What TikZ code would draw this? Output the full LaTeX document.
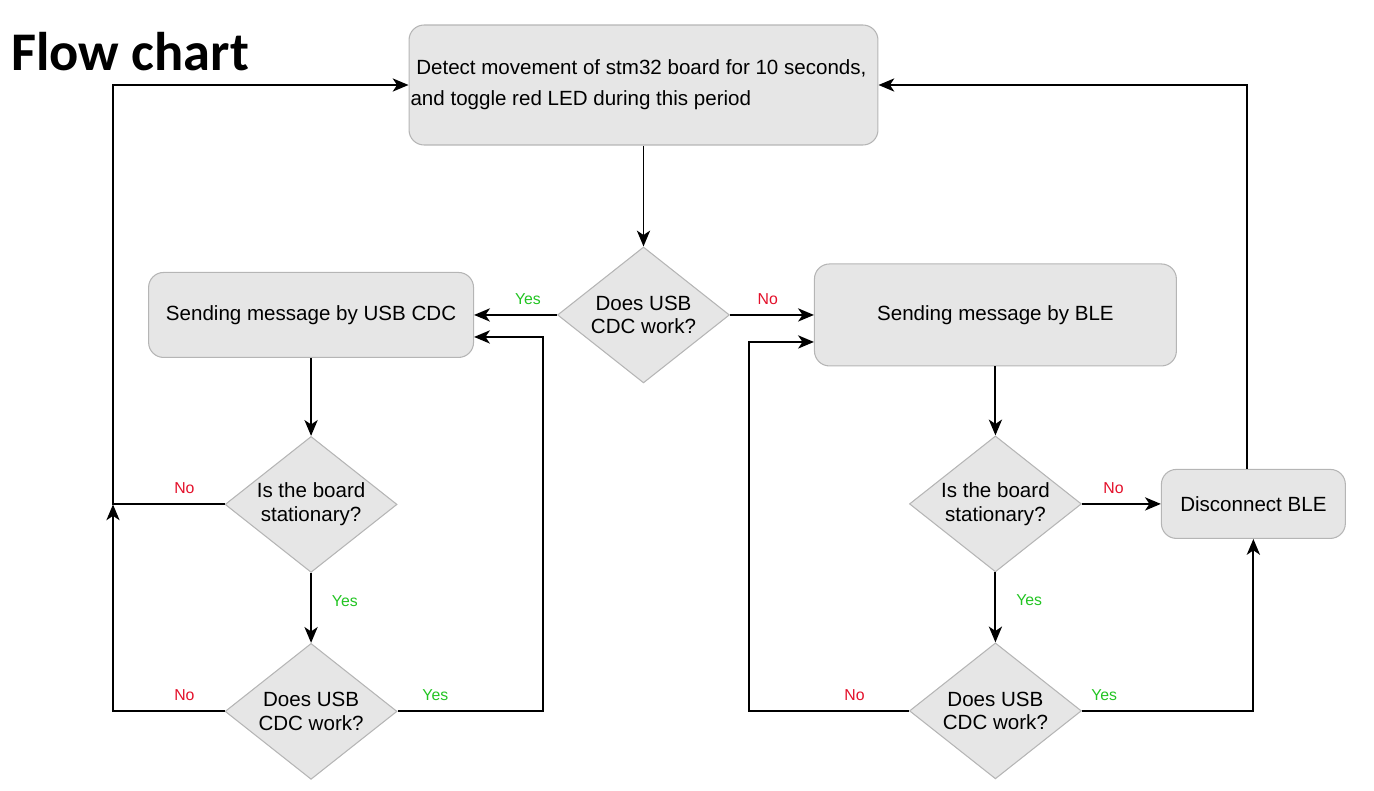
\documentclass[tikz,border=0pt]{standalone}
\usepackage{fontspec}
\setmainfont{Liberation Sans}
\newfontfamily\titlefont{Carlito}
\usetikzlibrary{positioning,shapes.geometric,arrows.meta,calc}
\definecolor{boxfill}{HTML}{E6E6E6}
\definecolor{boxline}{HTML}{B5B5B5}
\definecolor{yesgreen}{HTML}{22C422}
\definecolor{nored}{HTML}{E3102A}

\begin{document}
\begin{tikzpicture}[x=0.02cm,y=-0.02cm,on grid,
    procbox/.style={draw=boxline,fill=boxfill,rounded corners=0.3cm,line width=0.6pt,
        font=\fontsize{11.7}{13.6}\selectfont},
    decision/.style={diamond,draw=boxline,fill=boxfill,line width=0.6pt,inner sep=0pt,
        shape aspect=1.26,minimum width=3.44cm,minimum height=2.72cm,align=center,
        font=\fontsize{11.7}{13.6}\selectfont},
    flow/.style={line width=1.1pt,-{Stealth[length=9pt,width=7.5pt,inset=2.5pt]}},
    yes/.style={text=yesgreen,font=\fontsize{9}{10}\selectfont},
    no/.style={text=nored,font=\fontsize{9}{10}\selectfont}]
    \useasboundingbox (0,0) rectangle (1374,791);
    \node[anchor=base west,inner sep=0pt,font=\titlefont\bfseries\fontsize{31}{34}\selectfont] (title) at (11,71) {Flow chart};
    \node[procbox,minimum width=9.38cm,minimum height=2.4cm,inner xsep=0pt,align=left] (detect) at (643.5,85)
        {\ Detect movement of stm32 board for 10 seconds,\hspace*{0.2cm}\\[4pt]and toggle red LED during this period};
    \node[decision,below=4.6cm of detect] (cdcwork) {Does USB\\CDC work?};
    \node[procbox,left=6.65cm of cdcwork,minimum width=6.5cm,minimum height=1.7cm] (sendusb) {Sending message by USB CDC};
    \node[procbox,right=7.04cm of cdcwork,minimum width=7.24cm,minimum height=2.04cm] (sendble) {Sending message by BLE};
    \node[decision,below=3.79cm of sendusb] (stilla) {Is the board\\stationary?};
    \node[decision,below=4.14cm of stilla] (cdca) {Does USB\\CDC work?};
    \node[decision,below=3.78cm of sendble] (stillb) {Is the board\\stationary?};
    \node[decision,below=4.14cm of stillb] (cdcb) {Does USB\\CDC work?};
    \node[procbox,right=5.16cm of stillb,minimum width=3.68cm,minimum height=1.38cm] (disconnect) {Disconnect BLE};
    \coordinate (leftrail) at (113,0);
    \coordinate (usbrail) at (543,0);
    \coordinate (blerail) at (749,0);
    \draw[flow] (detect) -- (cdcwork);
    \draw[flow] (cdcwork.west) -- node[yes,pos=.35,above=2pt]{Yes} (sendusb.east);
    \draw[flow] (cdcwork.east) -- node[no,pos=.45,above=2pt]{No} (sendble.west);
    \draw[flow] (sendusb) -- (stilla);
    \draw[flow] (stilla.west) -- node[no,pos=.36,above=2pt]{No} (stilla.west -| leftrail) |- (detect.west);
    \draw[flow] (stilla) -- node[yes,pos=.4,right=8pt]{Yes} (cdca);
    \draw[flow] (cdca.west) -- node[no,pos=.36,above=2pt]{No} (cdca.west -| leftrail) -- (stilla.west -| leftrail);
    \draw[flow] (cdca.east) -- node[yes,pos=.26,above=2pt]{Yes} (cdca.east -| usbrail) |- ($(sendusb.east)+(0,22)$);
    \draw[flow] (sendble) -- (stillb);
    \draw[flow] (stillb.east) -- node[no,pos=.4,above=2pt]{No} (disconnect.west);
    \draw[flow] (stillb) -- node[yes,pos=.4,right=8pt]{Yes} (cdcb);
    \draw[flow] (cdcb.west) -- node[no,pos=.34,above=2pt]{No} (cdcb.west -| blerail) |- ($(sendble.west)+(0,27)$);
    \draw[flow] (cdcb.east) -- node[yes,pos=.13,above=2pt]{Yes} (cdcb.east -| disconnect.south) -- (disconnect.south);
    \draw[flow] ($(disconnect.north)+(-6,0)$) |- (detect.east);
\end{tikzpicture}
\end{document}
